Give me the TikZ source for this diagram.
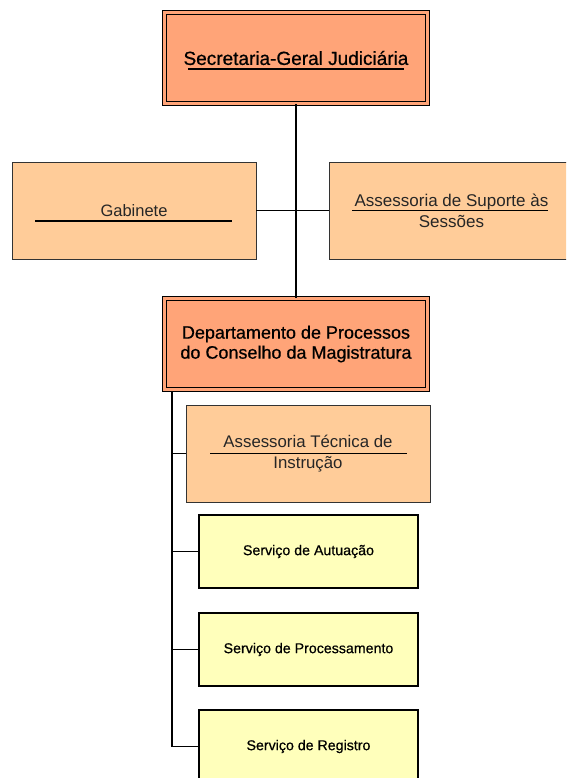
\documentclass[tikz,border=0pt]{standalone}
\usepackage{fontspec}
\setmainfont{Liberation Sans}
\newfontfamily\heavyfont[FakeBold=0.6]{Liberation Sans}
\definecolor{salmon}{RGB}{255,164,120}
\definecolor{lorange}{RGB}{255,204,153}
\definecolor{lyellow}{RGB}{255,255,187}
\tikzset{
  mainbox/.style={draw=black, line width=1pt, double=salmon, double distance=3pt, fill=salmon, inner sep=0pt, align=center},
  subbox/.style={draw=black!80, line width=0.9pt, fill=lorange, inner sep=0pt, align=center, text=black!85},
  servbox/.style={draw=black, line width=1.2pt, fill=lyellow, inner sep=0pt, align=center, font=\heavyfont\fontsize{14.2}{17}\selectfont},
  uline/.style={line width=1.1pt},
  thickconn/.style={line width=2.6pt},
  conn/.style={line width=1.4pt}
}
\begin{document}
\begin{tikzpicture}[x=1pt,y=-1pt]
\useasboundingbox (0,0) rectangle (566,778);
\clip (0,0) rectangle (566,778);
\fill[white] (0,0) rectangle (566,778);
% nodes
\node[mainbox, minimum width=263, minimum height=91, font=\heavyfont\fontsize{19}{22}\selectfont] (sgj) at (296,58) {Secretaria-Geral Judiciária};
\node[subbox, minimum width=244, minimum height=97, font=\fontsize{16.5}{20}\selectfont] (gab) at (134,210.5) {Gabinete};
\node[subbox, minimum width=245, minimum height=97, font=\fontsize{17}{21}\selectfont] (ass) at (451.5,210.5) {Assessoria de Suporte às\\Sessões};
\node[mainbox, minimum width=263, minimum height=91, font=\heavyfont\fontsize{18}{20}\selectfont] (dep) at (296,344) {Departamento de Processos\\do Conselho da Magistratura};
\node[subbox, minimum width=244, minimum height=97, font=\fontsize{16.8}{21}\selectfont] (ati) at (308,453.5) {Assessoria Técnica de\\Instrução};
\node[servbox, minimum width=219, minimum height=73] (sa) at (308.5,551.5) {Serviço de Autuação};
\node[servbox, minimum width=219, minimum height=73] (sp) at (308.5,649.5) {Serviço de Processamento};
\node[servbox, minimum width=219, minimum height=73] (sr) at (308.5,746.5) {Serviço de Registro};
% underlines
\draw[uline] (188,69) -- (404,69);
\draw[uline] (35,221) -- (232,221);
\draw[uline] (352,210.5) -- (548,210.5);
\draw[uline] (210,453.5) -- (407,453.5);
% connectors
\coordinate (j1) at (296,210.5);
\draw[thickconn] (sgj.south) -- (dep.north);
\draw[conn] (gab.east) -- (j1);
\draw[conn] (j1) -- (ass.west);
\coordinate (v0) at (172,392);
\coordinate (v1) at (172,746.5);
\draw[conn] (v0) -- (v1);
\draw[conn] (ati.west -| v0) -- (ati.west);
\draw[conn] (sa.west -| v0) -- (sa.west);
\draw[conn] (sp.west -| v0) -- (sp.west);
\draw[conn] (sr.west -| v0) -- (sr.west);
\end{tikzpicture}
\end{document}
